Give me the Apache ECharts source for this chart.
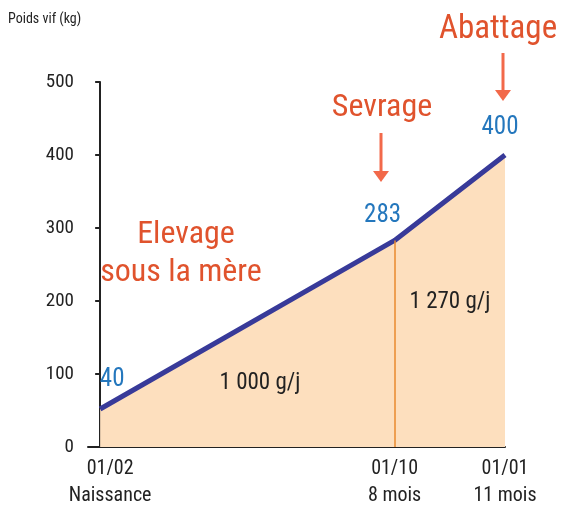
<!DOCTYPE html>
<html>
<head>
<meta charset="utf-8">
<script src="https://cdn.jsdelivr.net/npm/echarts@6/dist/echarts.min.js"></script>
<style>
html,body{margin:0;padding:0;background:#fff;}
#chart{width:566px;height:509px;}
</style>
</head>
<body>
<div id="chart"></div>
<script>
// données
var mois = [0, 8, 11];            // mois depuis la naissance
var poids = [52, 283, 400];       // poids vif tracé (kg)
var poidsTxt = ['40', '283', '400'];
var dates = ['01/02', '01/10', '01/01'];
var etapes = ['Naissance', '8 mois', '11 mois'];
var yTicks = [0, 100, 200, 300, 400, 500];

var FONT = '"Liberation Sans Narrow", "Roboto Condensed", Roboto, "Liberation Sans", Arial, sans-serif';
var ORANGE = '#e0532d';
var FLECHE = '#f2694a';
var BLEU = '#2477bd';

var points = [];
for (var i = 0; i < mois.length; i++) points.push([mois[i], poids[i]]);

// décalage des étiquettes bleues
var decal = [[12, -2], [-12, 2], [-5, 0]];

function fleche(x, y1, y2){
	return [
		{type:'line', shape:{x1:x,y1:y1,x2:x,y2:y2-8}, style:{stroke:FLECHE,lineWidth:3}},
		{type:'polygon', shape:{points:[[x-8,y2-11],[x+8,y2-11],[x,y2]]}, style:{fill:FLECHE}}
	];
}

var myChart = echarts.init(document.getElementById('chart'));
var option = {
	animation:false,
	textStyle:{fontFamily:FONT},
	grid:{left:88, right:61, top:82, bottom:62},
	xAxis:{
		type:'value', min:-0.33, max:11,
		splitLine:{show:false},
		axisLine:{lineStyle:{color:'#222',width:2}},
		axisTick:{show:false},
		axisLabel:{
			customValues:mois,
			margin:8,
			color:'#222', fontSize:20, lineHeight:27, fontFamily:FONT,
			formatter:function(v){
				var k = mois.indexOf(v);
				if (k < 0) return '';
				var t = dates[k] + '\n' + etapes[k];
				return k === 0 ? '{a|' + dates[k] + '}\n{a|' + etapes[k] + '}' : t;
			},
			rich:{a:{fontSize:20, lineHeight:27, color:'#222', fontFamily:FONT, padding:[0,0,0,20]}}
		}
	},
	yAxis:{
		type:'value', min:0, max:500, interval:100,
		splitLine:{show:false},
		axisLine:{show:true, lineStyle:{color:'#222',width:2}},
		axisTick:{show:true, length:5, lineStyle:{color:'#222',width:2}},
		axisLabel:{color:'#222', fontSize:19, margin:14, fontFamily:FONT,
			formatter:function(v){ return yTicks.indexOf(v) >= 0 ? String(v) : ''; }}
	},
	series:[{
		type:'line',
		data:points,
		symbol:'none',
		lineStyle:{color:'#383a99', width:5},
		areaStyle:{color:'#fddfbe', opacity:1},
		markLine:{
			silent:true, symbol:'none', label:{show:false},
			lineStyle:{color:'#e88a2e', width:1.5, type:'solid'},
			data:[[{coord:[mois[1],0]},{coord:[mois[1],poids[1]]}]]
		},
		z:3
	}, {
		// étiquettes des poids
		type:'scatter',
		data:points,
		symbolSize:1,
		itemStyle:{color:'rgba(0,0,0,0)', opacity:1},
		label:{
			show:true, position:'top', distance:14,
			color:BLEU, fontSize:25, fontFamily:FONT,
			formatter:function(p){ return poidsTxt[p.dataIndex]; }
		},
		labelLayout:function(p){
			return {dx:decal[p.dataIndex][0], dy:decal[p.dataIndex][1]};
		},
		silent:true,
		z:5
	}],
	graphic:[
		{type:'text', left:8, top:12, style:{text:'Poids vif (kg)', fill:'#222', fontSize:14, fontFamily:FONT}},
		{type:'text', x:498, y:30, style:{text:'Abattage', fill:ORANGE, fontSize:33, fontFamily:FONT, align:'center', verticalAlign:'middle'}},
		{type:'text', x:382, y:108, style:{text:'Sevrage', fill:ORANGE, fontSize:32, fontFamily:FONT, align:'center', verticalAlign:'middle'}},
		{type:'text', x:186, y:235, style:{text:'Elevage', fill:ORANGE, fontSize:32, fontFamily:FONT, align:'center', verticalAlign:'middle'}},
		{type:'text', x:181, y:273, style:{text:'sous la mère', fill:ORANGE, fontSize:32, fontFamily:FONT, align:'center', verticalAlign:'middle'}},
		{type:'text', x:260, y:383, z:10, style:{text:'1 000 g/j', fill:'#222', fontSize:23, fontFamily:FONT, align:'center', verticalAlign:'middle'}},
		{type:'text', x:450, y:302, z:10, style:{text:'1 270 g/j', fill:'#222', fontSize:23, fontFamily:FONT, align:'center', verticalAlign:'middle'}}
	].concat(fleche(503, 53, 101), fleche(381, 133, 182))
};
myChart.setOption(option);
</script>
</body>
</html>
